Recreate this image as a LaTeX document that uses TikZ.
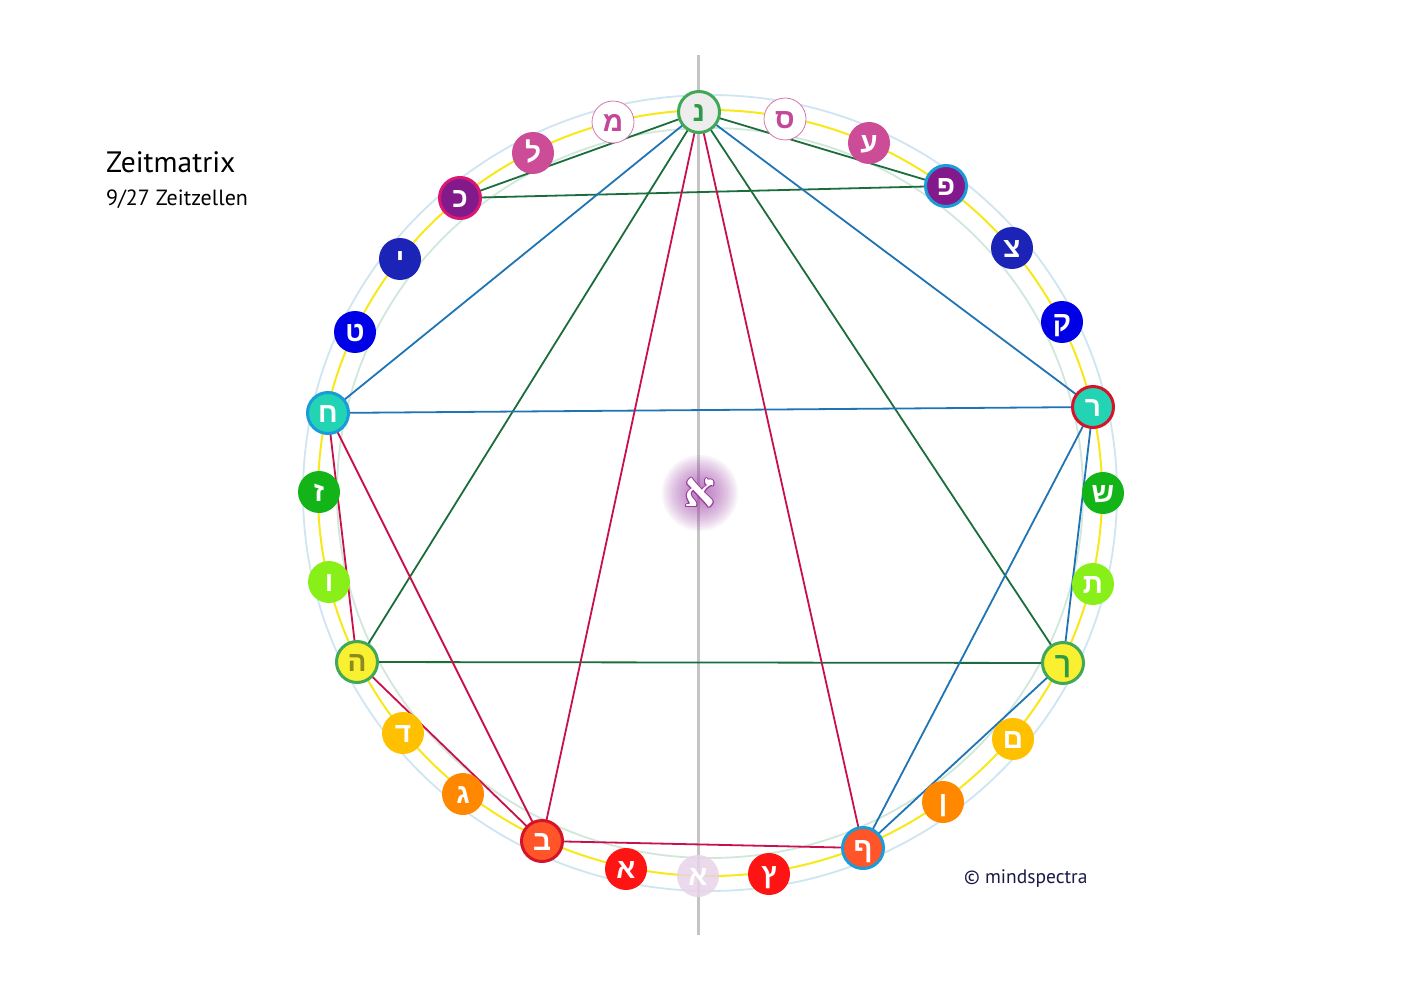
\documentclass[tikz,border=0pt]{standalone}
\usepackage{fontspec}
\setmainfont{PT Sans}
\newfontfamily\heb[Script=Hebrew]{Liberation Sans}
\newfontfamily\hebserif[Script=Hebrew]{Liberation Serif}
\usetikzlibrary{calc}
\pgfdeclarelayer{back}
\pgfdeclarelayer{bg}
\pgfsetlayers{back,bg,main}
\definecolor{cOuter}{HTML}{CFE6F2}
\definecolor{cInner}{HTML}{D0E8DC}
\definecolor{cYellowLine}{HTML}{F8E81A}
\definecolor{cAxis}{HTML}{C4C4C4}
\definecolor{cGreenL}{HTML}{1B6E3C}
\definecolor{cBlueL}{HTML}{1F74B4}
\definecolor{cRedL}{HTML}{C8104A}
\definecolor{cNunFill}{HTML}{EDEDED}
\definecolor{cRingGreen}{HTML}{40A858}
\definecolor{cNunText}{HTML}{2E9A48}
\definecolor{cPinkLine}{HTML}{D478AE}
\definecolor{cMagText}{HTML}{C4489A}
\definecolor{cPink}{HTML}{CC4C98}
\definecolor{cPurple}{HTML}{821A8C}
\definecolor{cRingMag}{HTML}{D81872}
\definecolor{cRingBlue}{HTML}{1A9CD8}
\definecolor{cRingRed}{HTML}{D4142A}
\definecolor{cDarkBlue}{HTML}{1C24B8}
\definecolor{cBlue}{HTML}{0000E6}
\definecolor{cTeal}{HTML}{22D4B4}
\definecolor{cGreen}{HTML}{12B418}
\definecolor{cLime}{HTML}{88F018}
\definecolor{cYellow}{HTML}{F8F030}
\definecolor{cOlive}{HTML}{8A8A1E}
\definecolor{cAmber}{HTML}{FFC000}
\definecolor{cOrange}{HTML}{FF8800}
\definecolor{cOrRed}{HTML}{FF5528}
\definecolor{cRed}{HTML}{FF1414}
\definecolor{cPaleLav}{HTML}{E8D4E8}
\definecolor{cGlow}{HTML}{A040A8}
\definecolor{cOutline}{HTML}{9A3A9E}
\definecolor{cNavy}{HTML}{1A1A48}
\begin{document}
\begin{tikzpicture}[x=1pt,y=-1pt,
  base/.style={circle, inner sep=0pt, minimum size=42pt, text height=19pt, text depth=0pt,
    font=\heb\bfseries\fontsize{28}{28}\selectfont, text=white},
  ring/.style={base, minimum size=41pt, line width=3pt},
  thin/.style={base, fill=white, draw=cPinkLine, line width=0.8pt, text=cMagText},
  gline/.style={draw=cGreenL, line width=1.8pt},
  bline/.style={draw=cBlueL, line width=1.8pt},
  rline/.style={draw=cRedL, line width=1.8pt},
  label/.style={inner sep=0pt, anchor=base west}]
\useasboundingbox (0,0) rectangle (1403,992);
% nodes
\node[ring, fill=cNunFill, draw=cRingGreen, text=cNunText] (nun) at (699,112) {נ};
\node[thin] (mem) at (613,122) {מ};
\node[thin] (samekh) at (785,119) {ס};
\node[base, fill=cPink] (lamed) at (533,153) {ל};
\node[base, fill=cPink] (ayin) at (869,143) {ע};
\node[ring, fill=cPurple, draw=cRingMag] (kaf) at (460,198) {כ};
\node[ring, fill=cPurple, draw=cRingBlue] (pe) at (946,186) {פ};
\node[base, fill=cDarkBlue] (yod) at (400,259) {י};
\node[base, fill=cDarkBlue] (tsadi) at (1012,248) {צ};
\node[base, fill=cBlue] (tet) at (355,332) {ט};
\node[base, fill=cBlue] (qof) at (1062,322) {ק};
\node[ring, fill=cTeal, draw=cRingBlue] (het) at (328,413) {ח};
\node[ring, fill=cTeal, draw=cRingRed] (resh) at (1093,407) {ר};
\node[base, fill=cGreen] (zayin) at (319,492) {ז};
\node[base, fill=cGreen] (shin) at (1103,493) {ש};
\node[base, fill=cLime] (vav) at (329,582) {ו};
\node[base, fill=cLime] (tav) at (1093,584) {ת};
\node[ring, fill=cYellow, draw=cRingGreen, text=cOlive] (he) at (357,662) {ה};
\node[ring, fill=cYellow, draw=cRingGreen, text=cNunText] (kafs) at (1063,663) {ך};
\node[base, fill=cAmber] (dalet) at (403,733) {ד};
\node[base, fill=cAmber] (mems) at (1013,739) {ם};
\node[base, fill=cOrange] (gimel) at (463,794) {ג};
\node[base, fill=cOrange] (nuns) at (943,802) {ן};
\node[ring, fill=cOrRed, draw=cRingRed] (bet) at (542,841) {ב};
\node[ring, fill=cOrRed, draw=cRingBlue] (pes) at (863,848) {ף};
\node[base, fill=cRed] (alef) at (626,869) {א};
\node[base, fill=cRed] (tsadis) at (769,874) {ץ};
\node[base, fill=cPaleLav, fill opacity=0.85, text opacity=1] (alef0) at (698,876) {א};
% background circles and axis
\begin{pgfonlayer}{back}
\fill[white] (0,0) rectangle (1403,992);
\coordinate (ctr) at (710,493);
\coordinate (vtop) at (698,55);
\coordinate (vbot) at (698,935);
\draw[cOuter, line width=1.8pt] (ctr) ellipse [x radius=407, y radius=398];
\draw[cInner, line width=1.8pt] (ctr) ellipse [x radius=373, y radius=365];
\draw[cYellowLine, line width=2pt] (ctr) ellipse [x radius=392, y radius=383];
\draw[cAxis, line width=3pt] (vtop) -- (vbot);
\end{pgfonlayer}
% connectors
\begin{pgfonlayer}{bg}
\draw[gline] (nun.center) -- (kaf.center) -- (pe.center) -- cycle;
\draw[gline] (nun.center) -- (he.center) -- (kafs.center) -- cycle;
\draw[bline] (nun.center) -- (het.center) -- (resh.center) -- cycle;
\draw[bline] (resh.center) -- (kafs.center) -- (pes.center) -- cycle;
\draw[rline] (nun.center) -- (bet.center) -- (pes.center) -- cycle;
\draw[rline] (het.center) -- (he.center) -- (bet.center) -- cycle;
\end{pgfonlayer}
% central alef with glow
\coordinate (mid) at (700,493);
\foreach \r in {38,36,...,4} {\fill[cGlow, opacity=0.055] (mid) circle (\r);}
\foreach \dx/\dy [count=\i] in {0.9/0,-0.9/0,0/0.9,0/-0.9,0.65/0.65,-0.65/0.65,0.65/-0.65,-0.65/-0.65} {
  \node[inner sep=0pt, text=cOutline, font=\hebserif\bfseries\fontsize{48}{48}\selectfont] (ao\i) at ($(mid)+(\dx,\dy)$) {א};
}
\node[inner sep=0pt, text=white, font=\hebserif\bfseries\fontsize{48}{48}\selectfont] (alefc) at (mid) {א};
% texts
\node[label, font=\fontsize{29.5}{29.5}\selectfont, text=black] (title) at (106,173) {Zeitmatrix};
\node[label, font=\fontsize{22}{22}\selectfont, text=black] (sub) at (106,206) {9/27 Zeitzellen};
\node[label, font=\fontsize{19.5}{19.5}\selectfont, text=cNavy] (copy) at (964,883) {© mindspectra};
\end{tikzpicture}
\end{document}
